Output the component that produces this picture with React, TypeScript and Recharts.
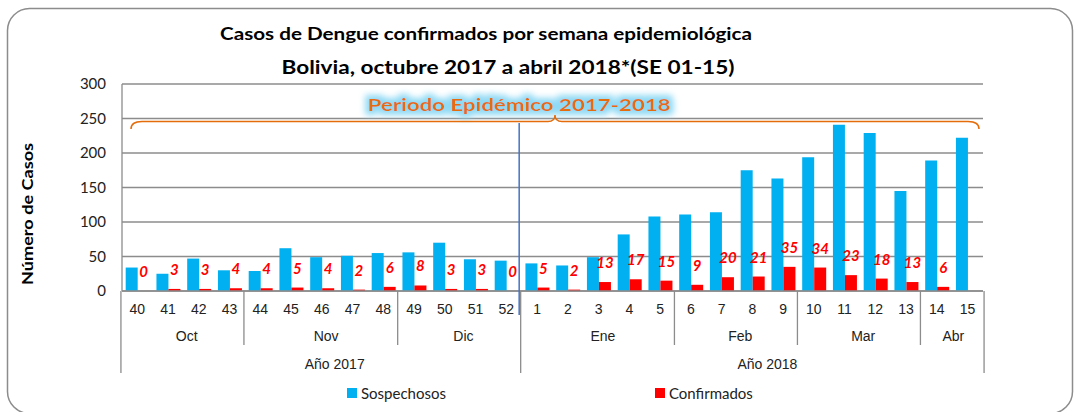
import React from 'react';
import { BarChart, Bar, XAxis, YAxis, CartesianGrid, LabelList, Legend } from 'recharts';

const WEEKS = ['40', '41', '42', '43', '44', '45', '46', '47', '48', '49', '50', '51', '52',
  '1', '2', '3', '4', '5', '6', '7', '8', '9', '10', '11', '12', '13', '14', '15'];
const SOSPECHOSOS = [34, 25, 47, 30, 29, 62, 49, 51, 55, 56, 70, 46, 44,
  40, 37, 49, 82, 108, 111, 114, 175, 163, 194, 241, 229, 145, 189, 222];
const CONFIRMADOS = [0, 3, 3, 4, 4, 5, 4, 2, 6, 8, 3, 3, 0,
  5, 2, 13, 17, 15, 9, 20, 21, 35, 34, 23, 18, 13, 6, null];
const MONTH_LABELS = ['Oct', 'Nov', 'Dic', 'Ene', 'Feb', 'Mar', 'Abr'];
const MONTH_SPANS = [4, 5, 4, 5, 4, 4, 2];
const YEAR_LABELS = ['Año 2017', 'Año 2018'];
const YEAR_SPANS = [13, 15];
const Y_TICKS = [0, 50, 100, 150, 200, 250, 300];
const SERIES = ['Sospechosos', 'Confirmados'];

const W = 1075;
const H = 412;
const M = { top: 84, right: 92, bottom: 39, left: 62 };
const PLOT_W = W - M.left - M.right;
const STEP = PLOT_W / WEEKS.length;
const AXIS_Y = 291;

const BLUE = '#00B0F0';
const RED = '#FF0000';
const GRID = '#8c8c8c';
const ORANGE = '#E46C0A';
const ARIAL = '"Liberation Sans", Arial, sans-serif';
const CAL = 'Lato, "Open Sans", sans-serif';

const data = WEEKS.map((w, i) => ({ week: w, sosp: SOSPECHOSOS[i], conf: CONFIRMADOS[i] }));

// group start index -> {label, span}
function starts(labels: string[], spans: number[]) {
  const m: Record<number, { label: string; span: number }> = {};
  let at = 0;
  labels.forEach((l, i) => { m[at] = { label: l, span: spans[i] }; at += spans[i]; });
  return m;
}
const MONTH_START = starts(MONTH_LABELS, MONTH_SPANS);
const YEAR_START = starts(YEAR_LABELS, YEAR_SPANS);

const WeekTick = (props: any) => {
  const { x, payload } = props;
  const i = payload.index;
  const left = x - STEP / 2;
  const month = MONTH_START[i];
  const year = YEAR_START[i];
  const last = i === WEEKS.length - 1;
  return (
    <g>
      <text x={x} y={AXIS_Y + 23} textAnchor="middle" fontFamily={ARIAL} fontSize={14} fill="#222">{payload.value}</text>
      {month && (
        <>
          <line x1={left} x2={left} y1={AXIS_Y} y2={year ? 373 : 345} stroke={GRID} strokeWidth={1.3} />
          <text x={left + (month.span * STEP) / 2} y={AXIS_Y + 50} textAnchor="middle" fontFamily={ARIAL} fontSize={14} fill="#222">{month.label}</text>
        </>
      )}
      {year && (
        <text x={left + (year.span * STEP) / 2} y={AXIS_Y + 78} textAnchor="middle" fontFamily={ARIAL} fontSize={14} fill="#222">{year.label}</text>
      )}
      {year && i > 0 && (
        <line x1={left - 1.5} x2={left - 1.5} y1={123} y2={315} stroke="#4472C4" strokeWidth={1.5} />
      )}
      {last && <line x1={x + STEP / 2} x2={x + STEP / 2} y1={AXIS_Y} y2={373} stroke={GRID} strokeWidth={1.3} />}
    </g>
  );
};

const ConfLabel = (props: any) => {
  const { x, y, width, value } = props;
  if (value === null || value === undefined) return null;
  return (
    <text x={x + width / 2} y={y - 20} textAnchor="middle" dominantBaseline="central"
      fontFamily={CAL} fontSize={15} fontWeight="bold" fontStyle="italic" fill={RED}>{value}</text>
  );
};

const LegendBox = () => {
  const colors = [BLUE, RED];
  return (
    <div style={{ display: 'flex', fontFamily: CAL, fontSize: 15, color: '#222' }}>
      {SERIES.map((name, k) => (
        <div key={name} style={{ display: 'flex', alignItems: 'center', width: k === 0 ? 308 : 'auto' }}>
          <div style={{ width: 10, height: 10, background: colors[k], marginRight: 4 }} />
          <span>{name}</span>
        </div>
      ))}
    </div>
  );
};

export default function App() {
  return (
    <div style={{ position: 'absolute', left: 0, top: 0, width: W, height: H, background: '#fff', overflow: 'hidden' }}>
      <BarChart width={W} height={H} data={data} margin={M} barGap={0} barCategoryGap="12%">
        <CartesianGrid horizontal vertical={false} stroke={GRID} strokeWidth={1.3} />
        <XAxis dataKey="week" interval={0} tickLine={false} tickSize={0} tickMargin={0} height={82}
          axisLine={{ stroke: GRID, strokeWidth: 1.3 }} tick={<WeekTick />} />
        <YAxis domain={[0, 300]} ticks={Y_TICKS} width={60} tickLine={false} tickSize={0} tickMargin={16}
          axisLine={{ stroke: GRID, strokeWidth: 1.3 }} tick={{ fontFamily: CAL, fontSize: 15, fill: '#222' }} />
        <Bar dataKey="sosp" name={SERIES[0]} fill={BLUE} isAnimationActive={false} />
        <Bar dataKey="conf" name={SERIES[1]} fill={RED} isAnimationActive={false}
          minPointSize={(v: any) => (v === 0 ? 0.01 : 0)}>
          <LabelList dataKey="conf" content={<ConfLabel />} />
        </Bar>
        <Legend content={<LegendBox />} layout="horizontal" verticalAlign="middle" align="center"
          wrapperStyle={{ position: 'absolute', left: 347, top: 384, width: 500 }} />
      </BarChart>
      <svg width={W} height={H} style={{ position: 'absolute', left: 0, top: 0, pointerEvents: 'none' }}>
        <defs>
          <filter id="glow" x="-10%" y="-50%" width="120%" height="200%">
            <feMorphology in="SourceAlpha" operator="dilate" radius="4" result="d" />
            <feGaussianBlur in="d" stdDeviation="3" result="b" />
            <feFlood floodColor="#8fd9f4" />
            <feComposite in2="b" operator="in" result="g" />
            <feMerge>
              <feMergeNode in="g" />
              <feMergeNode in="SourceGraphic" />
            </feMerge>
          </filter>
        </defs>
        <rect x={7.5} y={8.5} width={1065} height={405} rx={22} fill="none" stroke="#8c8c8c" strokeWidth={1.5} />
        <text x={486} y={40} textAnchor="middle" fontFamily={CAL} fontWeight="bold" fontSize={16.5} fill="#000"
          textLength={532} lengthAdjust="spacingAndGlyphs">Casos de Dengue confirmados por semana epidemiológica</text>
        <text x={508} y={74} textAnchor="middle" fontFamily={CAL} fontWeight="bold" fontSize={18.5} fill="#000"
          textLength={453} lengthAdjust="spacingAndGlyphs">Bolivia, octubre 2017 a abril 2018*(SE 01-15)</text>
        <text x={519} y={111} textAnchor="middle" fontFamily={CAL} fontWeight="bold" fontSize={17.5} fill={ORANGE}
          textLength={303} lengthAdjust="spacingAndGlyphs" filter="url(#glow)">Periodo Epidémico 2017-2018</text>
        <path d="M131,129 Q131,121.5 142,121.5 L548,121.5 Q555,121.5 555,115 Q555,121.5 562,121.5 L968,121.5 Q979,121.5 979,129"
          fill="none" stroke={ORANGE} strokeWidth={1.5} />
        <text transform="translate(27,214) rotate(-90)" textAnchor="middle" dominantBaseline="central"
          fontFamily={CAL} fontWeight="bold" fontSize={15} fill="#000" textLength={142} lengthAdjust="spacingAndGlyphs">Número de Casos</text>
      </svg>
    </div>
  );
}
